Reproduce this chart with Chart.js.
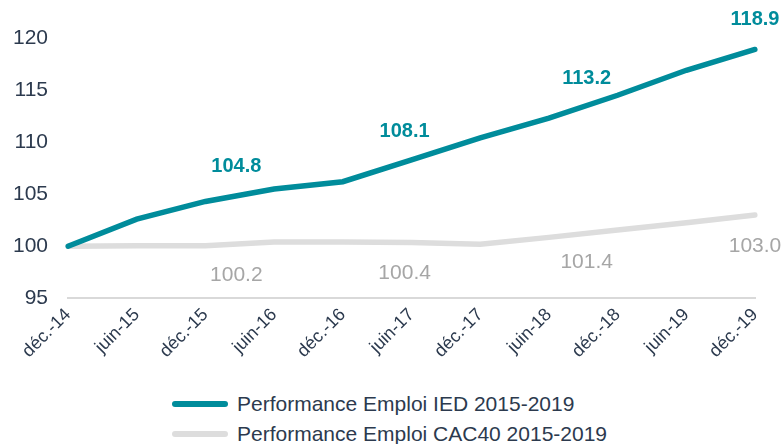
<!DOCTYPE html>
<html>
<head>
<meta charset="utf-8">
<script src="https://cdn.jsdelivr.net/npm/chart.js"></script>
<style>
  html, body { margin: 0; padding: 0; background: #fff; }
  #wrap { width: 784px; height: 368px; position: relative; }
  #legend { width: 784px; height: 76px; font-family: "Liberation Sans", Arial, sans-serif; font-size: 21px; color: #2C3A4E; }
  #legend div { position: absolute; left: 172px; display: flex; align-items: center; }
  #legend span.key { display: inline-block; width: 56px; height: 6px; border-radius: 3px; margin-right: 9px; }
</style>
</head>
<body>
<div id="wrap"><canvas id="chart"></canvas></div>
<div id="legend"></div>
<script>
// data
const periods = ['déc.-14', 'juin-15', 'déc.-15', 'juin-16', 'déc.-16', 'juin-17', 'déc.-17', 'juin-18', 'déc.-18', 'juin-19', 'déc.-19'];
const iedValues = [100, 102.6, 104.3, 105.5, 106.2, 108.3, 110.4, 112.3, 114.5, 116.9, 118.9];
const cacValues = [100, 100.05, 100.05, 100.4, 100.4, 100.35, 100.2, 100.85, 101.55, 102.25, 103.0];

// yearly figures written on the chart, and where (category index) they sit
const iedYearly = [104.8, 108.1, 113.2, 118.9];
const cacYearly = [100.2, 100.4, 101.4, 103.0];
const yearlyAt = [2.45, 4.9, 7.55, 10];

const teal = '#008C9B';
const grey = '#DDDDDD';
const navy = '#2C3A4E';
const fontFamily = '"Liberation Sans", Arial, sans-serif';

const yearlyLabels = {
    id: 'yearlyLabels',
    afterDatasetsDraw(chart) {
        const ctx = chart.ctx;
        const xs = chart.scales.x, ys = chart.scales.y;
        ctx.save();
        ctx.textAlign = 'center';
        ctx.textBaseline = 'middle';
        ctx.font = 'bold 20px ' + fontFamily;
        ctx.fillStyle = teal;
        iedYearly.forEach((v, i) => {
            ctx.fillText(v.toFixed(1), xs.getPixelForValue(yearlyAt[i]), ys.getPixelForValue(v) - 30);
        });
        ctx.font = '21px ' + fontFamily;
        ctx.fillStyle = '#A6A6A6';
        cacYearly.forEach((v, i) => {
            ctx.fillText(v.toFixed(1), xs.getPixelForValue(yearlyAt[i]), ys.getPixelForValue(v) + 31);
        });
        ctx.restore();
    }
};

const chart = new Chart(document.getElementById('chart'), {
    type: 'line',
    data: {
        labels: periods,
        datasets: [
            {
                label: 'Performance Emploi IED 2015-2019',
                data: iedValues,
                borderColor: teal,
                backgroundColor: teal,
                borderWidth: 5.5,
                borderCapStyle: 'round',
                pointRadius: 0,
                tension: 0
            },
            {
                label: 'Performance Emploi CAC40 2015-2019',
                data: cacValues,
                borderColor: grey,
                backgroundColor: grey,
                borderWidth: 5.5,
                borderCapStyle: 'round',
                pointRadius: 0,
                tension: 0
            }
        ]
    },
    options: {
        responsive: true,
        maintainAspectRatio: false,
        animation: false,
        layout: { padding: { top: 38, right: 29, left: -7, bottom: 0 } },
        plugins: {
            tooltip: { enabled: false },
            legend: { display: false }
        },
        scales: {
            x: {
                offset: false,
                grid: { display: false, drawTicks: false },
                border: { display: true, color: '#D9D9D9', width: 2 },
                ticks: {
                    color: navy,
                    maxRotation: 45,
                    minRotation: 45,
                    padding: 6,
                    font: { size: 18, family: fontFamily }
                }
            },
            y: {
                min: 95,
                max: 120,
                grid: { display: false, drawTicks: false },
                border: { display: false },
                ticks: {
                    stepSize: 5,
                    color: navy,
                    padding: 20,
                    font: { size: 21, family: fontFamily }
                }
            }
        }
    },
    plugins: [yearlyLabels]
});

// legend rows, one per series
const legend = document.getElementById('legend');
chart.data.datasets.forEach((ds, i) => {
    const row = document.createElement('div');
    row.style.top = (392 + i * 30) + 'px';
    row.innerHTML = '<span class="key" style="background:' + ds.borderColor + '"></span>' + ds.label;
    legend.appendChild(row);
});
</script>
</body>
</html>
